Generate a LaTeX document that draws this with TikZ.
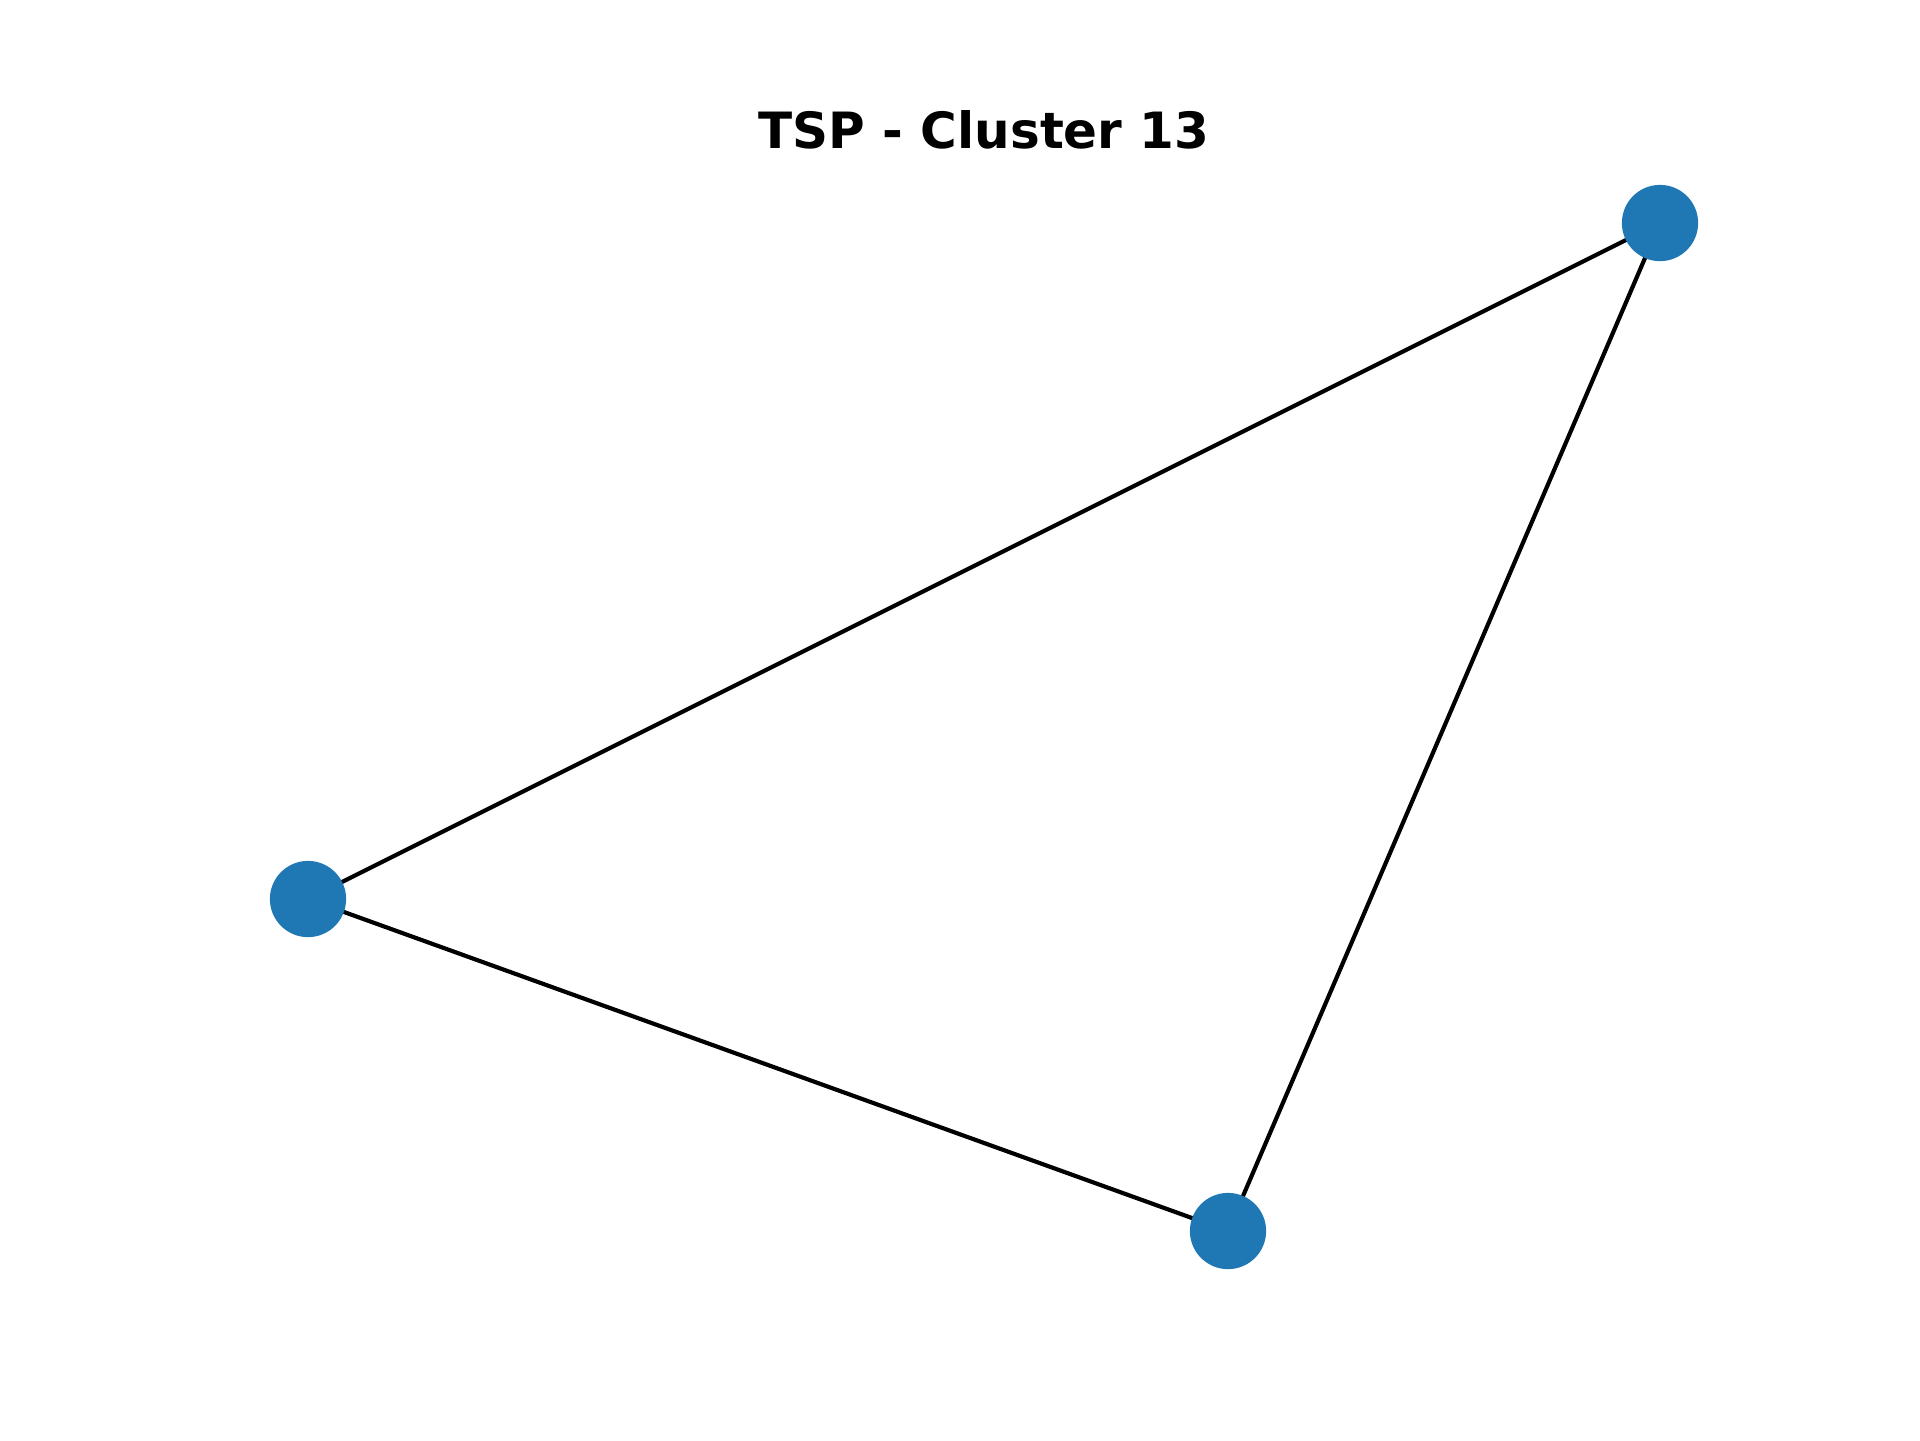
\documentclass[tikz,border=0pt]{standalone}
\usepackage{fontspec}
\setmainfont{DejaVu Sans}
\definecolor{nodeblue}{HTML}{1F77B4}
\begin{document}
\begin{tikzpicture}[x=0.24pt,y=-0.24pt,
  city/.style={circle,fill=nodeblue,draw=none,minimum size=18.3pt,inner sep=0pt},
  tour/.style={line width=1pt,black}]
\useasboundingbox (0,0) rectangle (1920,1440);
\node[anchor=base,font=\bfseries\fontsize{12pt}{14pt}\selectfont] (title) at (984,148) {TSP - Cluster 13};
\coordinate (a) at (1660,223);
\coordinate (b) at (308,899);
\coordinate (c) at (1228,1231);
\draw[tour] (a) -- (b);
\draw[tour] (b) -- (c);
\draw[tour] (c) -- (a);
\node[city] (n1) at (a) {};
\node[city] (n2) at (b) {};
\node[city] (n3) at (c) {};
\end{tikzpicture}
\end{document}
